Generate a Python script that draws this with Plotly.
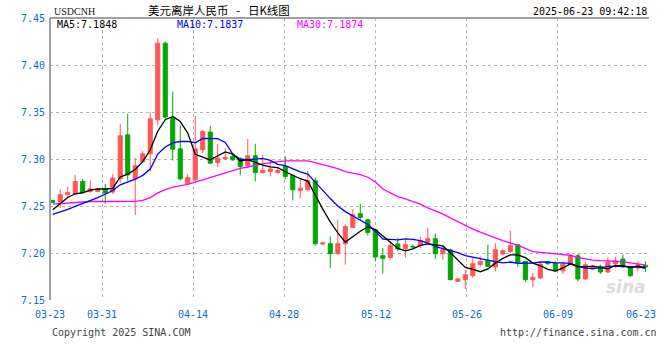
import plotly.graph_objects as go

# ---- data (USDCNH daily candles) ----
opens = [7.2559, 7.2548, 7.2620, 7.2630, 7.2761, 7.2655, 7.2655, 7.2680, 7.2648, 7.2790,
         7.3257, 7.2786, 7.2973, 7.3055, 7.3417, 7.4232, 7.3446, 7.3108, 7.2736, 7.2779,
         7.3098, 7.3286, 7.2963, 7.3002, 7.3027, 7.3002, 7.2931, 7.3034, 7.2856, 7.2867,
         7.2856, 7.2920, 7.2825, 7.2665, 7.2673, 7.2768, 7.2096, 7.2099, 7.1993, 7.2099,
         7.2272, 7.2418, 7.2354, 7.2248, 7.1971, 7.1953, 7.2096, 7.2046, 7.2070, 7.2078,
         7.2117, 7.2152, 7.1993, 7.2035, 7.1698, 7.1716, 7.1759, 7.1876, 7.1921, 7.1851,
         7.1989, 7.2017, 7.2088, 7.1911, 7.1716, 7.1734, 7.1903, 7.1892, 7.1812, 7.1883,
         7.1971, 7.1724, 7.1830, 7.1858, 7.1798, 7.1886, 7.1936, 7.1851, 7.1840, 7.1868]
highs = [7.2565, 7.2679, 7.2705, 7.2832, 7.2790, 7.2772, 7.2690, 7.2736, 7.2843, 7.3371,
         7.3480, 7.3010, 7.3087, 7.3498, 7.4285, 7.4249, 7.3717, 7.3356, 7.2843, 7.3457,
         7.3310, 7.3353, 7.3162, 7.3116, 7.3063, 7.3020, 7.3215, 7.3162, 7.3045, 7.2991,
         7.2903, 7.3027, 7.2832, 7.2797, 7.2875, 7.2803, 7.2120, 7.2176, 7.2354, 7.2301,
         7.2467, 7.2524, 7.2361, 7.2255, 7.2053, 7.2123, 7.2159, 7.2149, 7.2090, 7.2176,
         7.2266, 7.2205, 7.2078, 7.2046, 7.1734, 7.1822, 7.1947, 7.1964, 7.2088, 7.2106,
         7.2035, 7.2237, 7.2096, 7.1918, 7.1787, 7.1900, 7.1911, 7.1911, 7.1911, 7.1989,
         7.1989, 7.1900, 7.1876, 7.1876, 7.1953, 7.1957, 7.1982, 7.1858, 7.1911, 7.1911]
lows = [7.2530, 7.2478, 7.2598, 7.2620, 7.2637, 7.2637, 7.2650, 7.2524, 7.2630, 7.2744,
        7.2772, 7.2405, 7.2963, 7.2867, 7.3363, 7.3417, 7.2984, 7.2772, 7.2726, 7.2761,
        7.3063, 7.2946, 7.2914, 7.2991, 7.2981, 7.2825, 7.2903, 7.2761, 7.2843, 7.2814,
        7.2843, 7.2786, 7.2559, 7.2584, 7.2655, 7.2078, 7.2081, 7.1841, 7.1982, 7.1876,
        7.2265, 7.2354, 7.2184, 7.1911, 7.1780, 7.1929, 7.2017, 7.1947, 7.2050, 7.2053,
        7.2106, 7.1936, 7.1929, 7.1709, 7.1695, 7.1617, 7.1734, 7.1858, 7.1851, 7.1804,
        7.1979, 7.2000, 7.1851, 7.1688, 7.1634, 7.1724, 7.1879, 7.1804, 7.1777, 7.1876,
        7.1698, 7.1716, 7.1822, 7.1777, 7.1787, 7.1840, 7.1840, 7.1745, 7.1804, 7.1798]
closes = [7.2538, 7.2620, 7.2644, 7.2761, 7.2644, 7.2683, 7.2680, 7.2637, 7.2797, 7.3247,
          7.2832, 7.2928, 7.3055, 7.3427, 7.4232, 7.3446, 7.3105, 7.2790, 7.2803, 7.3108,
          7.3292, 7.2956, 7.3010, 7.3016, 7.2991, 7.2920, 7.3034, 7.2856, 7.2878, 7.2893,
          7.2878, 7.2814, 7.2673, 7.2690, 7.2768, 7.2099, 7.2106, 7.1993, 7.2099, 7.2283,
          7.2407, 7.2378, 7.2219, 7.1958, 7.1943, 7.2078, 7.2043, 7.2088, 7.2066, 7.2131,
          7.2152, 7.1993, 7.2035, 7.1716, 7.1724, 7.1769, 7.1886, 7.1911, 7.1858, 7.2035,
          7.2024, 7.2078, 7.1904, 7.1716, 7.1741, 7.1883, 7.1886, 7.1811, 7.1883, 7.1964,
          7.1724, 7.1876, 7.1858, 7.1798, 7.1900, 7.1911, 7.1851, 7.1759, 7.1876, 7.1851]

ma5 = [7.2460, 7.2530, 7.2590, 7.2630, 7.2641, 7.2670, 7.2682, 7.2681, 7.2688, 7.2809,
       7.2839, 7.2888, 7.2972, 7.3098, 7.3295, 7.3418, 7.3453, 7.3400, 7.3275, 7.3050,
       7.3020, 7.2990, 7.3034, 7.3076, 7.3053, 7.2979, 7.2994, 7.2963, 7.2936, 7.2916,
       7.2908, 7.2864, 7.2827, 7.2790, 7.2765, 7.2609, 7.2467, 7.2331, 7.2213, 7.2116,
       7.2178, 7.2232, 7.2277, 7.2249, 7.2181, 7.2115, 7.2048, 7.2022, 7.2044, 7.2081,
       7.2096, 7.2086, 7.2075, 7.2005, 7.1924, 7.1847, 7.1826, 7.1801, 7.1830, 7.1892,
       7.1943, 7.1981, 7.1980, 7.1951, 7.1893, 7.1864, 7.1826, 7.1807, 7.1841, 7.1885,
       7.1854, 7.1852, 7.1861, 7.1844, 7.1831, 7.1869, 7.1864, 7.1844, 7.1859, 7.1848]
ma10 = [7.2410, 7.2435, 7.2465, 7.2495, 7.2525, 7.2560, 7.2590, 7.2625, 7.2665, 7.2725,
        7.2755, 7.2785, 7.2826, 7.2893, 7.3052, 7.3128, 7.3171, 7.3186, 7.3187, 7.3173,
        7.3219, 7.3221, 7.3217, 7.3176, 7.3052, 7.2999, 7.2992, 7.2999, 7.3006, 7.2985,
        7.2943, 7.2929, 7.2895, 7.2863, 7.2840, 7.2758, 7.2666, 7.2579, 7.2501, 7.2440,
        7.2393, 7.2350, 7.2304, 7.2231, 7.2149, 7.2146, 7.2140, 7.2150, 7.2146, 7.2131,
        7.2106, 7.2067, 7.2049, 7.2025, 7.2003, 7.1972, 7.1956, 7.1938, 7.1918, 7.1908,
        7.1895, 7.1904, 7.1891, 7.1891, 7.1892, 7.1904, 7.1904, 7.1894, 7.1896, 7.1889,
        7.1859, 7.1839, 7.1834, 7.1842, 7.1858, 7.1861, 7.1858, 7.1852, 7.1852, 7.1837]
ma30 = [7.2520, 7.2527, 7.2533, 7.2541, 7.2545, 7.2548, 7.2548, 7.2548, 7.2548, 7.2546,
        7.2545, 7.2550, 7.2560, 7.2590, 7.2640, 7.2675, 7.2700, 7.2715, 7.2730, 7.2755,
        7.2780, 7.2805, 7.2830, 7.2855, 7.2878, 7.2900, 7.2915, 7.2935, 7.2948, 7.2961,
        7.2972, 7.2979, 7.2980, 7.2977, 7.2981, 7.2962, 7.2943, 7.2921, 7.2898, 7.2866,
        7.2852, 7.2833, 7.2806, 7.2757, 7.2680, 7.2635, 7.2599, 7.2576, 7.2551, 7.2519,
        7.2481, 7.2449, 7.2416, 7.2373, 7.2331, 7.2292, 7.2254, 7.2222, 7.2188, 7.2160,
        7.2131, 7.2107, 7.2081, 7.2049, 7.2014, 7.2007, 7.2000, 7.1994, 7.1987, 7.1976,
        7.1953, 7.1937, 7.1925, 7.1919, 7.1918, 7.1912, 7.1906, 7.1895, 7.1890, 7.1874]

tick_labels = ["03-23", "03-31", "04-14", "04-28", "05-12", "05-26", "06-09", "06-23"]
tick_days = [0, 8, 22, 36, 50, 64, 78, 92]   # calendar days after 03-23
y_ticks = [7.15, 7.20, 7.25, 7.30, 7.35, 7.40, 7.45]

ma_labels = ["MA5:7.1848", "MA10:7.1837", "MA30:7.1874"]
title_text = "美元离岸人民币&nbsp;&nbsp;&nbsp;-&nbsp;&nbsp;&nbsp;日K线图"
symbol_text = "USDCNH"
time_text = "2025-06-23 09:42:18"

# ---- figure ----
W, H = 660, 360
ML, MR, MT, MB = 50, 11, 18, 60
x_idx = list(range(len(closes)))
x_left, x_right = -0.36, len(closes) - 1 + 0.48
span_days = tick_days[-1]
tick_pos = [x_left + d / span_days * (x_right - x_left) for d in tick_days]

RED, GREEN = "#ff5757", "#00a800"
BLUE_TXT = "#0b6fc6"
MONO = "DejaVu Sans Mono"

fig = go.Figure()
fig.add_trace(go.Candlestick(
    x=x_idx, open=opens, high=highs, low=lows, close=closes,
    increasing=dict(line=dict(color=RED, width=1), fillcolor=RED),
    decreasing=dict(line=dict(color=GREEN, width=1), fillcolor=GREEN),
    whiskerwidth=0, showlegend=False, hoverinfo="skip"))
for vals, col in [(ma30, "#ff00ff"), (ma10, "#0000ff"), (ma5, "#000000")]:
    fig.add_trace(go.Scatter(x=x_idx, y=vals, mode="lines",
                             line=dict(color=col, width=1.3),
                             showlegend=False, hoverinfo="skip"))

grid = dict(showgrid=True, gridcolor="#b4b4b4", griddash="dot", gridwidth=1)
fig.update_layout(
    width=W, height=H, margin=dict(l=ML, r=MR, t=MT, b=MB),
    paper_bgcolor="white", plot_bgcolor="white", boxgap=0.22,
    xaxis=dict(range=[x_left, x_right], tickvals=tick_pos, showticklabels=False,
               ticks="", zeroline=False, rangeslider=dict(visible=False),
               fixedrange=True, **grid),
    yaxis=dict(range=[7.15, 7.45], tickvals=y_ticks,
               ticktext=[f"{v:.2f}" for v in y_ticks], ticks="",
               ticklabelstandoff=4,
               tickfont=dict(family=MONO, size=10, color=BLUE_TXT),
               zeroline=False, fixedrange=True, **grid),
)

ann = []
for lab, p, i in zip(tick_labels, tick_pos, range(len(tick_labels))):
    last = i == len(tick_labels) - 1
    ann.append(dict(x=p, xref="x", y=0, yref="paper", text=lab, showarrow=False,
                    xanchor="right" if last else "center", xshift=9 if last else 0,
                    yanchor="top", yshift=-7,
                    font=dict(family=MONO, size=10, color=BLUE_TXT)))
pw = W - ML - MR
for lab, px, col in zip(ma_labels, [55, 175, 295], ["#000000", "#0000ff", "#ff00ff"]):
    ann.append(dict(x=(px - ML) / pw, xref="paper", y=1, yref="paper", text=lab,
                    showarrow=False, xanchor="left", yanchor="middle", yshift=-6,
                    font=dict(family=MONO, size=10, color=col)))
ann.append(dict(x=(52 - ML) / pw, xref="paper", y=1, yref="paper", text=symbol_text,
                showarrow=False, xanchor="left", yanchor="middle", yshift=6.5,
                font=dict(family="Liberation Serif", size=10, color="#222222")))
ann.append(dict(x=(218.5 - ML) / pw, xref="paper", y=1, yref="paper", text=title_text,
                showarrow=False, xanchor="center", yanchor="middle", yshift=8.5,
                font=dict(family="Noto Sans CJK SC", size=11.5, color="#000000")))
ann.append(dict(x=1, xref="paper", y=1, yref="paper", text=time_text,
                showarrow=False, xanchor="right", yanchor="middle", yshift=6.5,
                font=dict(family=MONO, size=10, color="#000000")))
ann.append(dict(x=0, xref="paper", y=0, yref="paper", text="Copyright 2025 SINA.COM",
                showarrow=False, xanchor="left", yanchor="middle", yshift=-32.5,
                font=dict(family=MONO, size=10, color="#444444")))
ann.append(dict(x=1, xref="paper", y=0, yref="paper", text="http://finance.sina.com.cn",
                showarrow=False, xanchor="right", yanchor="middle", yshift=-32.5, xshift=10,
                font=dict(family=MONO, size=10, color="#444444")))
ann.append(dict(x=1, xref="paper", y=0, yref="paper", text="<b><i>sina</i></b>",
                showarrow=False, xanchor="right", yanchor="bottom", yshift=1, xshift=-1,
                font=dict(family="DejaVu Sans", size=17, color="#dcdcdc")))
fig.update_layout(annotations=ann)

fig.add_shape(type="line", xref="paper", yref="paper", x0=0, x1=0, y0=0, y1=1,
              line=dict(color="#a0a0a0", width=2))
fig.add_shape(type="line", xref="paper", yref="paper", x0=0, x1=1, y0=1, y1=1,
              line=dict(color="#a0a0a0", width=2))

fig.write_html("out.html")
